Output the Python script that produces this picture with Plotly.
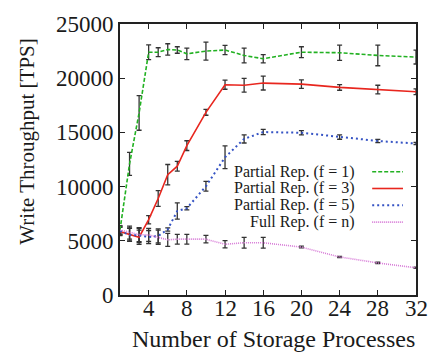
import plotly.graph_objects as go

procs = [1, 2, 3, 4, 5, 6, 7, 8, 10, 12, 14, 16, 20, 24, 28, 32]

f1_vals = [6000, 12100, 16800, 22400, 22400, 22650, 22600, 22250, 22500, 22600, 22100, 21800, 22400, 22350, 22100, 21950]
f1_err = [380, 1060, 1600, 680, 410, 530, 300, 530, 830, 420, 680, 380, 500, 710, 950, 640]

f3_vals = [5850, 5600, 5330, 6950, 8900, 11100, 11880, 13780, 16850, 19400, 19350, 19550, 19450, 19150, 18950, 18750]
f3_err = [380, 600, 650, 380, 720, 940, 450, 450, 270, 420, 640, 640, 390, 260, 400, 260]

f5_vals = [5900, 5550, 5500, 5350, 5450, 6050, 7750, 8000, 10030, 12700, 14400, 15030, 14970, 14570, 14210, 13970]
f5_err = [380, 600, 650, 600, 650, 150, 750, 150, 450, 1050, 380, 240, 200, 200, 150, 100]

fn_vals = [6000, 5750, 5570, 5540, 5330, 5090, 5150, 5150, 5150, 4680, 4820, 4820, 4420, 3510, 2960, 2510]
fn_err = [380, 600, 650, 600, 650, 600, 450, 450, 350, 330, 500, 500, 80, 60, 60, 60]

labels = ["Partial Rep. (f = 1)", "Partial Rep. (f = 3)", "Partial Rep. (f = 5)", "Full Rep. (f = n)"]
colors = ["#22b122", "#e8261e", "#3553c4", "#d77ad7"]
dashes = ["4px,2px", "solid", "2px,3px", "1px,1px"]
widths = [1.6, 1.6, 2.0, 1.6]

x_ticks = [4, 8, 12, 16, 20, 24, 28, 32]
y_ticks = [0, 5000, 10000, 15000, 20000, 25000]

FONT = "Liberation Serif"
TXT = "#1a1a1a"

series = [(f1_vals, f1_err), (f3_vals, f3_err), (f5_vals, f5_err), (fn_vals, fn_err)]

fig = go.Figure()
for (vals, errs) in series:
    fig.add_trace(go.Scatter(
        x=procs, y=vals, mode="markers",
        marker=dict(size=1, color="rgba(0,0,0,0)"),
        error_y=dict(type="data", array=errs, visible=True, color="#333333", thickness=1.3, width=2.5),
        showlegend=False, hoverinfo="skip"))
for i, (vals, errs) in enumerate(series):
    fig.add_trace(go.Scatter(
        x=procs, y=vals, mode="lines", name=labels[i],
        line=dict(color=colors[i], dash=dashes[i], width=widths[i]),
        showlegend=False))

# manual legend (text right-aligned, sample line on the right)
leg_y = [0.455, 0.393, 0.331, 0.269]
for i, lab in enumerate(labels):
    fig.add_annotation(x=0.80, y=leg_y[i], xref="paper", yref="paper", text=lab,
                       showarrow=False, xanchor="right", yanchor="middle",
                       font=dict(family=FONT, size=16, color=TXT))
    fig.add_shape(type="line", xref="paper", yref="paper",
                  x0=0.852, x1=0.956, y0=leg_y[i], y1=leg_y[i],
                  line=dict(color=colors[i], dash=dashes[i], width=widths[i]))

# x tick labels
for v in x_ticks:
    fig.add_annotation(x=v, y=0, xref="x", yref="paper", text=str(v), showarrow=False,
                       xanchor="center", yanchor="top", yshift=1,
                       font=dict(family=FONT, size=23, color=TXT))

# axis titles
fig.add_annotation(x=0.5175, y=-0.163, xref="paper", yref="paper", text="Number of Storage Processes",
                   showarrow=False, xanchor="center", yanchor="middle",
                   font=dict(family=FONT, size=24, color=TXT))
fig.add_annotation(x=-0.3125, y=0.564, xref="paper", yref="paper", text="Write Throughput [TPS]",
                   showarrow=False, xanchor="center", yanchor="middle", textangle=-90,
                   font=dict(family=FONT, size=21, color=TXT))

axis_common = dict(showgrid=False, zeroline=False, showline=True, linecolor="#222", linewidth=1.6,
                   mirror="allticks", ticks="inside", ticklen=5, tickcolor="#222", tickwidth=1.2)
fig.update_xaxes(range=[1, 32], tickvals=x_ticks, showticklabels=False, **axis_common)
fig.update_yaxes(range=[0, 25000], tickvals=y_ticks, ticktext=[str(v) for v in y_ticks],
                 tickfont=dict(family=FONT, size=23, color=TXT), **axis_common)

fig.update_layout(width=432, height=353, margin=dict(l=120, r=16, t=20, b=58),
                  plot_bgcolor="white", paper_bgcolor="white", showlegend=False)

fig.write_html("out.html")
